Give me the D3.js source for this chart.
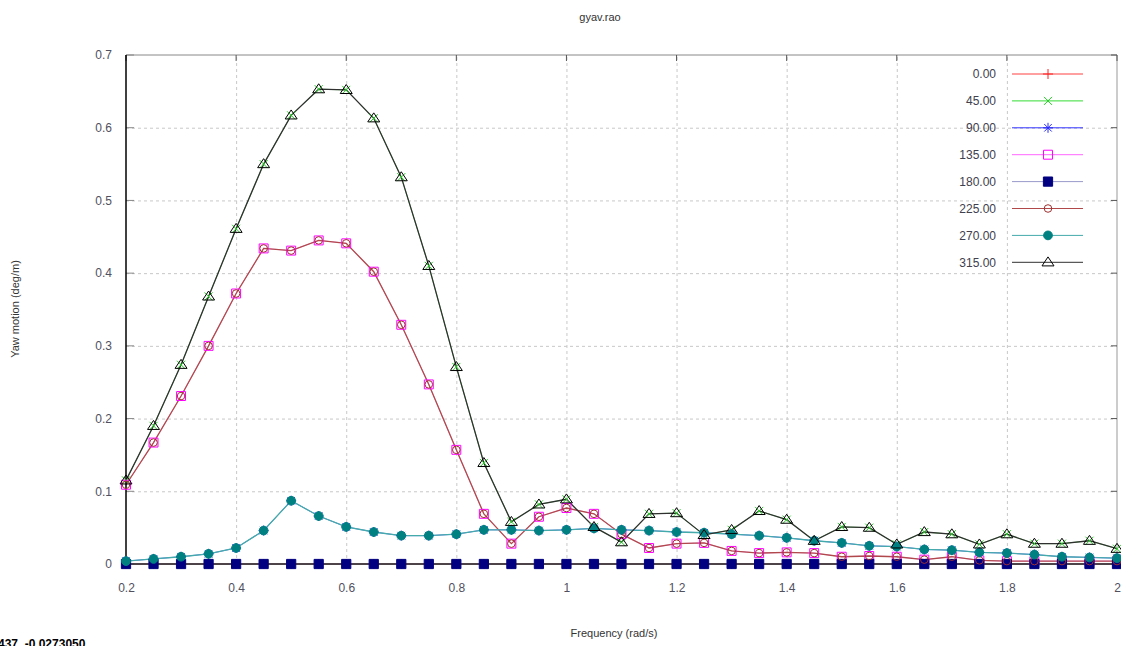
<!DOCTYPE html>
<html>
<head>
<meta charset="utf-8">
<script src="https://cdn.jsdelivr.net/npm/d3@7"></script>
<style>
  body { margin: 0; background: #fff; }
  svg { display: block; font-family: "Liberation Sans", Arial, sans-serif; }
  .tick text { fill: #50505e; font-size: 12px; }
  .grid line { stroke: #c8c8c8; stroke-dasharray: 3,3; }
  .grid path { display: none; }
</style>
</head>
<body>
<div id="chart"></div>
<script>
// frequencies (rad/s)
var freqs = [0.2, 0.25, 0.3, 0.35, 0.4, 0.45, 0.5, 0.55, 0.6, 0.65, 0.7, 0.75, 0.8, 0.85, 0.9, 0.95,
    1.0, 1.05, 1.1, 1.15, 1.2, 1.25, 1.3, 1.35, 1.4, 1.45, 1.5, 1.55, 1.6, 1.65, 1.7, 1.75, 1.8,
    1.85, 1.9, 1.95, 2.0];

var headings = ['0.00', '45.00', '90.00', '135.00', '180.00', '225.00', '270.00', '315.00'];

var yaw0 = [0, 0, 0, 0, 0, 0, 0, 0, 0, 0, 0, 0, 0, 0, 0, 0, 0, 0, 0, 0, 0, 0, 0, 0, 0, 0, 0, 0, 0,
    0, 0, 0, 0, 0, 0, 0, 0];
var yaw45 = [0.115, 0.19, 0.274, 0.368, 0.461, 0.55, 0.617, 0.653, 0.652, 0.613, 0.532, 0.41, 0.271,
    0.139, 0.058, 0.082, 0.089, 0.051, 0.030, 0.069, 0.070, 0.040, 0.047, 0.073, 0.061, 0.032,
    0.051, 0.050, 0.027, 0.044, 0.041, 0.027, 0.041, 0.028, 0.028, 0.032, 0.021];
var yaw90 = [0.004, 0.007, 0.010, 0.014, 0.022, 0.046, 0.087, 0.066, 0.051, 0.044, 0.039, 0.039,
    0.041, 0.047, 0.047, 0.046, 0.047, 0.049, 0.047, 0.046, 0.044, 0.043, 0.041, 0.039, 0.036,
    0.032, 0.029, 0.025, 0.024, 0.020, 0.019, 0.016, 0.015, 0.013, 0.010, 0.009, 0.008];
var yaw135 = [0.109, 0.167, 0.231, 0.30, 0.372, 0.434, 0.431, 0.445, 0.441, 0.402, 0.329, 0.247,
    0.157, 0.069, 0.028, 0.065, 0.077, 0.069, 0.041, 0.022, 0.028, 0.029, 0.018, 0.015, 0.016,
    0.015, 0.010, 0.011, 0.010, 0.006, 0.010, 0.005, 0.004, 0.004, 0.004, 0.004, 0.004];
var yaw180 = [0, 0, 0, 0, 0, 0, 0, 0, 0, 0, 0, 0, 0, 0, 0, 0, 0, 0, 0, 0, 0, 0, 0, 0, 0, 0, 0, 0, 0,
    0, 0, 0, 0, 0, 0, 0, 0];
var yaw225 = [0.109, 0.167, 0.231, 0.30, 0.372, 0.434, 0.431, 0.445, 0.441, 0.402, 0.329, 0.247,
    0.157, 0.069, 0.028, 0.065, 0.077, 0.069, 0.041, 0.022, 0.028, 0.029, 0.018, 0.015, 0.016,
    0.015, 0.010, 0.011, 0.010, 0.006, 0.010, 0.005, 0.004, 0.004, 0.004, 0.004, 0.004];
var yaw270 = [0.004, 0.007, 0.010, 0.014, 0.022, 0.046, 0.087, 0.066, 0.051, 0.044, 0.039, 0.039,
    0.041, 0.047, 0.047, 0.046, 0.047, 0.049, 0.047, 0.046, 0.044, 0.043, 0.041, 0.039, 0.036,
    0.032, 0.029, 0.025, 0.024, 0.020, 0.019, 0.016, 0.015, 0.013, 0.010, 0.009, 0.008];
var yaw315 = [0.115, 0.19, 0.274, 0.368, 0.461, 0.55, 0.617, 0.653, 0.652, 0.613, 0.532, 0.41, 0.271,
    0.139, 0.058, 0.082, 0.089, 0.051, 0.030, 0.069, 0.070, 0.040, 0.047, 0.073, 0.061, 0.032,
    0.051, 0.050, 0.027, 0.044, 0.041, 0.027, 0.041, 0.028, 0.028, 0.032, 0.021];

var xTicks = [0.2, 0.4, 0.6, 0.8, 1, 1.2, 1.4, 1.6, 1.8, 2];
var yTicks = [0, 0.1, 0.2, 0.3, 0.4, 0.5, 0.6, 0.7];

var W = 1121, H = 646,
    padL = 126, padT = 55, padR = 1117, padB = 564;

var svg = d3.select('#chart').append('svg')
    .attr('width', W)
    .attr('height', H);

var xScale = d3.scaleLinear().domain([0.2, 2]).range([padL, padR]),
    yScale = d3.scaleLinear().domain([0, 0.7]).range([padB, padT]);

// marker shapes
var cross = function(s) { return 'M' + (-s) + ',0H' + s + 'M0,' + (-s) + 'V' + s; },
    ex = function(s) { return 'M' + (-s) + ',' + (-s) + 'L' + s + ',' + s + 'M' + (-s) + ',' + s + 'L' + s + ',' + (-s); },
    star = function(s) { return cross(s) + ex(s * 0.75); },
    tri = function(s) { return 'M' + (-s) + ',' + (s * 0.6) + 'L' + s + ',' + (s * 0.6) + 'L0,' + (-s * 0.9) + 'Z'; };

// lw: hidden duplicates thinner so the last drawn series shows its colour
var series = [
    {name: headings[0], values: yaw0, line: '#ff4040', color: '#ff2020', path: cross(5), fill: 'none', lw: 0.8},
    {name: headings[1], values: yaw45, line: '#33dd33', color: '#22cc22', path: ex(4), fill: 'none', lw: 0.7},
    {name: headings[2], values: yaw90, line: '#3333ff', color: '#2a2aff', path: star(5), fill: 'none', lw: 0.7},
    {name: headings[3], values: yaw135, line: '#ff66ff', color: '#ff00ff', path: d3.symbol(d3.symbolSquare, 80)(), fill: 'none', lw: 0.7},
    {name: headings[4], values: yaw180, line: '#9a9acc', color: '#000080', path: d3.symbol(d3.symbolSquare, 85)(), fill: '#000080', lw: 1},
    {name: headings[5], values: yaw225, line: '#b04a4a', color: '#a03030', path: d3.symbol(d3.symbolCircle, 45)(), fill: 'none', lw: 1.3},
    {name: headings[6], values: yaw270, line: '#44aaaa', color: '#008080', path: d3.symbol(d3.symbolCircle, 60)(), fill: '#008080', lw: 1.3},
    {name: headings[7], values: yaw315, line: '#303030', color: '#000', path: tri(6), fill: 'none', lw: 1.3}
];

// grid
svg.append('g')
    .attr('class', 'grid')
    .attr('transform', 'translate(0,' + padB + ')')
    .call(d3.axisBottom(xScale).tickValues(xTicks.slice(1, -1)).tickSize(-(padB - padT)).tickFormat(''));
svg.append('g')
    .attr('class', 'grid')
    .attr('transform', 'translate(' + padL + ',0)')
    .call(d3.axisLeft(yScale).tickValues(yTicks.slice(1, -1)).tickSize(-(padR - padL)).tickFormat(''));

// frame
svg.append('line').attr('x1', padL).attr('x2', padR).attr('y1', padT).attr('y2', padT).attr('stroke', '#888');
svg.append('line').attr('x1', padR).attr('x2', padR).attr('y1', padT).attr('y2', padB).attr('stroke', '#999');

// small inner ticks
xTicks.forEach(function(t) {
    svg.append('line').attr('x1', xScale(t)).attr('x2', xScale(t))
        .attr('y1', padT).attr('y2', padT + 6).attr('stroke', '#555');
});
yTicks.forEach(function(t) {
    svg.append('line').attr('x1', padR).attr('x2', padR - 6)
        .attr('y1', yScale(t)).attr('y2', yScale(t)).attr('stroke', '#555');
    svg.append('line').attr('x1', padL).attr('x2', padL + 8)
        .attr('y1', yScale(t)).attr('y2', yScale(t)).attr('stroke', '#888');
});

// axis labels
var xAxis = svg.append('g')
    .attr('transform', 'translate(0,' + (padB + 16) + ')')
    .call(d3.axisBottom(xScale).tickValues(xTicks).tickSize(0).tickFormat(d3.format('')));
xAxis.select('.domain').remove();

var yAxis = svg.append('g')
    .attr('transform', 'translate(' + (padL - 11) + ',0)')
    .call(d3.axisLeft(yScale).tickValues(yTicks).tickSize(0).tickFormat(d3.format('')));
yAxis.select('.domain').remove();

var lineGen = d3.line()
    .x(function(d, i) { return xScale(freqs[i]); })
    .y(function(d) { return yScale(d); });

var groups = svg.append('g');

series.forEach(function(s) {
    groups.append('path')
        .attr('d', lineGen(s.values))
        .attr('fill', 'none')
        .attr('stroke', s.line)
        .attr('stroke-width', s.lw);
});

// left and bottom axis lines
groups.append('line').attr('x1', padL).attr('x2', padL).attr('y1', padT).attr('y2', padB).attr('stroke', '#000').attr('stroke-width', 1.5);
groups.append('line').attr('x1', padL).attr('x2', padR).attr('y1', padB).attr('y2', padB).attr('stroke', '#222').attr('stroke-width', 1.5);

series.forEach(function(s) {
    groups.append('g').selectAll('path')
        .data(s.values)
        .enter()
        .append('path')
        .attr('transform', function(d, i) { return 'translate(' + xScale(freqs[i]) + ',' + yScale(d) + ')'; })
        .attr('d', s.path)
        .attr('fill', s.fill)
        .attr('stroke', s.color)
        .attr('stroke-width', 1);
});

// legend
var legend = svg.append('g').selectAll('.legend')
    .data(series)
    .enter()
    .append('g')
    .attr('class', 'legend')
    .attr('transform', function(d, i) { return 'translate(0,' + (74 + i * 26.9) + ')'; });

legend.append('line')
    .attr('x1', 1012).attr('x2', 1083)
    .attr('stroke', function(d) { return d.line; });
legend.append('path')
    .attr('transform', 'translate(1048,0)')
    .attr('d', function(d) { return d.path; })
    .attr('fill', function(d) { return d.fill; })
    .attr('stroke', function(d) { return d.color; });
legend.append('text')
    .attr('x', 996)
    .attr('dy', '.35em')
    .style('text-anchor', 'end')
    .style('font-size', '12px')
    .style('fill', '#40404e')
    .text(function(d) { return d.name; });

// titles
svg.append('text')
    .attr('x', 600).attr('y', 21)
    .style('text-anchor', 'middle').style('font-size', '11px').style('fill', '#333')
    .text('gyav.rao');
svg.append('text')
    .attr('x', 614).attr('y', 637)
    .style('text-anchor', 'middle').style('font-size', '11px').style('fill', '#333')
    .text('Frequency (rad/s)');
svg.append('text')
    .attr('transform', 'translate(19,309) rotate(-90)')
    .style('text-anchor', 'middle').style('font-size', '11px').style('fill', '#333')
    .text('Yaw motion  (deg/m)');
svg.append('text')
    .attr('x', -2).attr('y', 648)
    .style('font-size', '12px').style('font-weight', 'bold').style('fill', '#000')
    .text('437, -0.0273050');
</script>
</body>
</html>
